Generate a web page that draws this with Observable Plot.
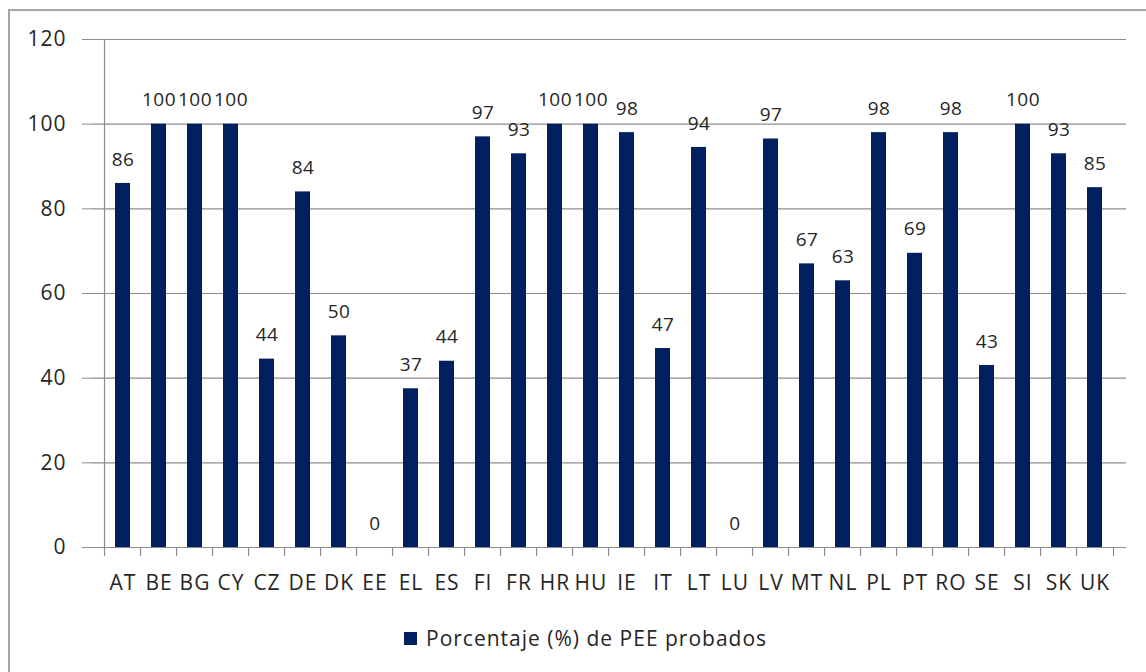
<!DOCTYPE html>
<html>
<head>
<meta charset="utf-8">
<script src="https://cdn.jsdelivr.net/npm/d3@7"></script>
<script src="https://cdn.jsdelivr.net/npm/@observablehq/plot@0.6"></script>
<style>
  html, body { margin: 0; padding: 0; background: #fff; }
  body { width: 1146px; height: 672px; position: relative; overflow: hidden; font-family: "Open Sans", sans-serif; }
  #frame { position: absolute; left: 8px; top: 9px; width: 1200px; height: 700px; border-left: 2px solid #a6a6a6; border-top: 2px solid #a6a6a6; }
  #chart { position: absolute; left: 0; top: 0; }
  #chart g[aria-label="y-axis tick label"] text,
  #chart g[aria-label="x-axis tick label"] text { letter-spacing: 1px; }
  #chart g[aria-label="text"] text { letter-spacing: 0.5px; }
  #legend { position: absolute; left: 404px; top: 624px; display: flex; align-items: center; font-size: 21px; letter-spacing: 1px; color: #262626; }
  #legend .sw { width: 13px; height: 13px; background: #002060; margin-right: 9px; }
</style>
</head>
<body>
<div id="frame"></div>
<div id="chart"></div>
<div id="legend"><span class="sw"></span><span>Porcentaje (%) de PEE probados</span></div>
<script>
const countries = ["AT","BE","BG","CY","CZ","DE","DK","EE","EL","ES","FI","FR","HR","HU","IE","IT","LT","LU","LV","MT","NL","PL","PT","RO","SE","SI","SK","UK"];
const values = [86,100,100,100,44.5,84,50,0,37.5,44,97,93,100,100,98,47,94.5,0,96.5,67,63,98,69.5,98,43,100,93,85];
const labels = [86,100,100,100,44,84,50,0,37,44,97,93,100,100,98,47,94,0,97,67,63,98,69,98,43,100,93,85];
const yTicks = [0,20,40,60,80,100,120];
const seriesName = "Porcentaje (%) de PEE probados";

const data = countries.map((c, i) => ({country: c, value: values[i], label: labels[i]}));

const W = 1146, H = 600;
const mL = 91, mR = 20, mT = 39, mB = 53;
const bw = (W - mL - mR) / countries.length;
const gray = "#8c8c8c";

const plot = Plot.plot({
  width: W,
  height: H,
  marginLeft: mL,
  marginRight: mR,
  marginTop: mT,
  marginBottom: mB,
  style: {fontFamily: "'Open Sans', sans-serif", color: "#262626", background: "transparent"},
  x: {domain: countries, padding: 0.58, label: null},
  y: {domain: [0, 120], label: null},
  marks: [
    Plot.ruleY(yTicks, {stroke: gray, strokeWidth: 1.2}),
    Plot.ruleX([countries[0]], {dx: -bw / 2, y1: 0, y2: 120, stroke: gray, strokeWidth: 1.2}),
    Plot.ruleX(countries, {x: d => d, dx: -bw / 2, y1: 0, y2: 0, insetBottom: -9, stroke: gray, strokeWidth: 1.2}),
    Plot.ruleX([countries[countries.length - 1]], {dx: bw / 2, y1: 0, y2: 0, insetBottom: -9, stroke: gray, strokeWidth: 1.2}),
    Plot.barY(data, {x: "country", y: "value", fill: "#002060"}),
    Plot.text(data, {x: "country", y: "value", text: d => String(d.label), dy: -24, fontSize: 19, fill: "#262626"}),
    Plot.axisY({ticks: yTicks, tickSize: 9, tickPadding: 16, stroke: gray, fontSize: 21, tickFormat: d => String(d)}),
    Plot.axisX({tickSize: 0, tickPadding: 28, fontSize: 21})
  ]
});
document.getElementById("chart").appendChild(plot);
</script>
</body>
</html>
